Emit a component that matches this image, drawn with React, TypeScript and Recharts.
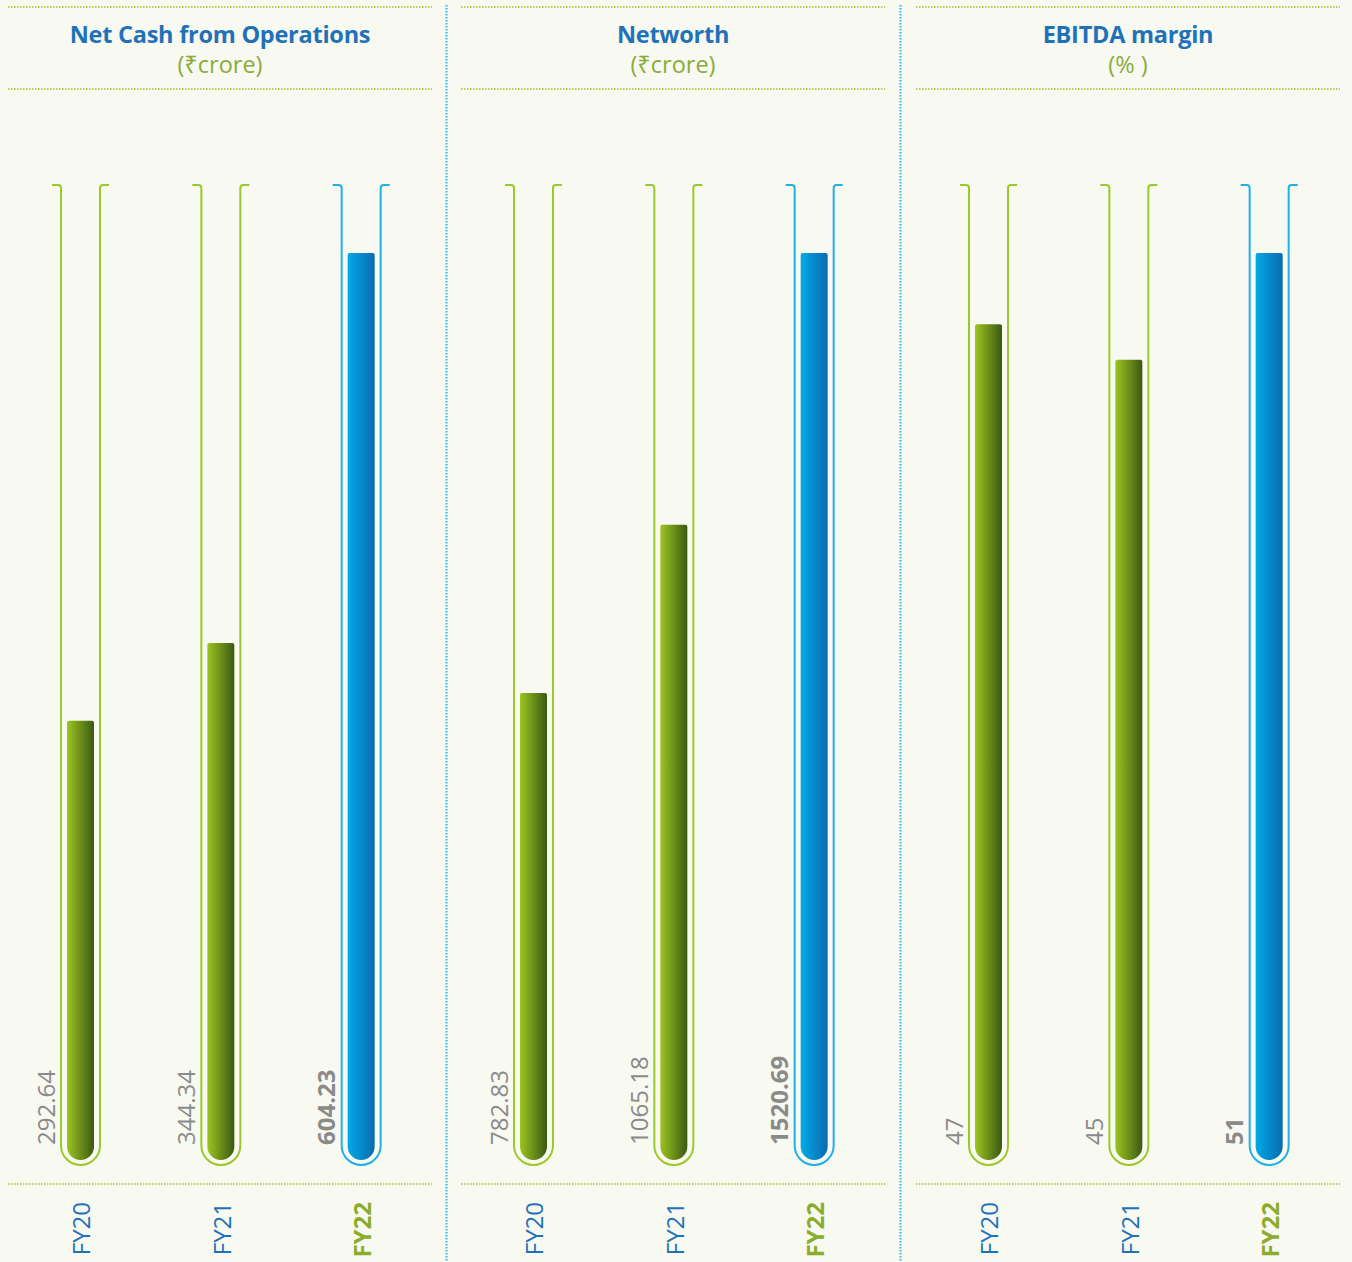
import { BarChart, Bar, XAxis, YAxis, LabelList } from 'recharts';

const years = ['FY20', 'FY21', 'FY22'];
const netCash = [292.64, 344.34, 604.23];
const networth = [782.83, 1065.18, 1520.69];
const ebitdaMargin = [47, 45, 51];

const titles = ['Net Cash from Operations', 'Networth', 'EBITDA margin'];
const units = ['(₹crore)', '(₹crore)', '(% )'];
const series = [netCash, networth, ebitdaMargin];

const panelLeft = [8, 461, 916];
const PANEL_W = 424;
const PAGE_H = 1262;
const BAR_TOP = 253; // pixel where the max value lands
const BAR_ZERO = 1160; // pixel of value 0
const TUBE_TOP = 185;
const TUBE_BOTTOM = 1165;
const TICK_TOP = 1202;

const FONT = "'Open Sans', 'Noto Sans', sans-serif";
const BG = '#f8f9f1';
const BLUE_TEXT = '#1f72b8';
const GREEN_TEXT = '#8bab3c';
const GRAY = '#8a8a8a';
const GREEN_LINE = '#9dc82b';
const BLUE_LINE = '#1fb0e8';

const isLatest = (i: number) => i === years.length - 1;

const makeShape = (pid: number) => (props: any) => {
  const { x, y, width, height, index } = props;
  const cx = x + width / 2;
  const L = cx - 19.5;
  const R = cx + 19.5;
  const r = 19.5;
  const tube =
    `M ${L - 9} ${TUBE_TOP} L ${L - 3} ${TUBE_TOP} Q ${L} ${TUBE_TOP} ${L} ${TUBE_TOP + 3} ` +
    `L ${L} ${TUBE_BOTTOM - r} A ${r} ${r} 0 0 0 ${R} ${TUBE_BOTTOM - r} ` +
    `L ${R} ${TUBE_TOP + 3} Q ${R} ${TUBE_TOP} ${R + 3} ${TUBE_TOP} L ${R + 9} ${TUBE_TOP}`;
  const rb = width / 2;
  const rt = 2;
  const yb = y + height;
  const bar =
    `M ${x} ${y + rt} Q ${x} ${y} ${x + rt} ${y} L ${x + width - rt} ${y} ` +
    `Q ${x + width} ${y} ${x + width} ${y + rt} L ${x + width} ${yb - rb} ` +
    `A ${rb} ${rb} 0 0 1 ${x} ${yb - rb} Z`;
  const latest = isLatest(index);
  return (
    <g>
      <path d={tube} fill="none" stroke={latest ? BLUE_LINE : GREEN_LINE} strokeWidth={2} />
      <path d={bar} fill={`url(#${latest ? 'blue' : 'green'}-${pid})`} />
    </g>
  );
};

const ValueLabel = (props: any) => {
  const { x, y, width, height, value, index } = props;
  const tx = x + width / 2 - 26;
  const ty = y + height - 15;
  return (
    <text
      x={tx}
      y={ty}
      transform={`rotate(-90 ${tx} ${ty})`}
      textAnchor="start"
      fill={GRAY}
      fontFamily={FONT}
      fontSize={24}
      fontWeight={isLatest(index) ? 700 : 400}
    >
      {value}
    </text>
  );
};

const YearTick = (props: any) => {
  const { x, payload, index } = props;
  const tx = x + 10;
  const latest = isLatest(index);
  return (
    <text
      x={tx}
      y={TICK_TOP}
      transform={`rotate(-90 ${tx} ${TICK_TOP})`}
      textAnchor="end"
      fill={latest ? '#8cac2e' : BLUE_TEXT}
      fontFamily={FONT}
      fontSize={24}
      fontWeight={latest ? 700 : 400}
    >
      {payload.value}
    </text>
  );
};

const Panel = ({ pid }: { pid: number }) => {
  const data = years.map((year, i) => ({ year, value: series[pid][i] }));
  return (
    <div style={{ position: 'absolute', left: panelLeft[pid], top: 0 }}>
      <BarChart
        width={PANEL_W}
        height={PAGE_H}
        data={data}
        margin={{ top: BAR_TOP, bottom: 0, left: 2, right: 1 }}
      >
        <defs>
          <linearGradient id={`green-${pid}`} x1="0" y1="0" x2="1" y2="0">
            <stop offset="0%" stopColor="#9dc421" />
            <stop offset="100%" stopColor="#3a5913" />
          </linearGradient>
          <linearGradient id={`blue-${pid}`} x1="0" y1="0" x2="1" y2="0">
            <stop offset="0%" stopColor="#00aae8" />
            <stop offset="100%" stopColor="#0b6aae" />
          </linearGradient>
        </defs>
        <XAxis
          dataKey="year"
          axisLine={false}
          tickLine={false}
          height={PAGE_H - BAR_ZERO}
          interval={0}
          tick={<YearTick />}
        />
        <YAxis hide domain={[0, 'dataMax']} />
        <Bar dataKey="value" barSize={27} shape={makeShape(pid)} isAnimationActive={false}>
          <LabelList dataKey="value" content={<ValueLabel />} />
        </Bar>
      </BarChart>
      <div
        style={{
          position: 'absolute',
          top: 19,
          left: 0,
          width: PANEL_W,
          textAlign: 'center',
          fontFamily: FONT,
          fontWeight: 700,
          fontSize: 23.5,
          lineHeight: '30px',
          color: BLUE_TEXT,
          letterSpacing: -0.25,
        }}
      >
        {titles[pid]}
      </div>
      <div
        style={{
          position: 'absolute',
          top: 49,
          left: 0,
          width: PANEL_W,
          textAlign: 'center',
          fontFamily: FONT,
          fontSize: 23.5,
          lineHeight: '30px',
          color: GREEN_TEXT,
        }}
      >
        {units[pid]}
      </div>
    </div>
  );
};

export default function App() {
  return (
    <div
      style={{
        position: 'absolute',
        top: 0,
        left: 0,
        width: 1352,
        height: PAGE_H,
        background: BG,
        overflow: 'hidden',
      }}
    >
      <svg width={1352} height={PAGE_H} style={{ position: 'absolute', left: 0, top: 0 }}>
        {panelLeft.map((px) =>
          [7, 89, 1184].map((ly) => (
            <line
              key={`${px}-${ly}`}
              x1={px}
              x2={px + PANEL_W}
              y1={ly}
              y2={ly}
              stroke="#b3cf56"
              strokeWidth={2}
              strokeDasharray="1.5 1.5"
            />
          ))
        )}
        {[446.5, 900.5].map((dx) => (
          <line
            key={dx}
            x1={dx}
            x2={dx}
            y1={5}
            y2={PAGE_H}
            stroke="#35b4e8"
            strokeWidth={2}
            strokeDasharray="1.5 1.5"
          />
        ))}
      </svg>
      {[0, 1, 2].map((pid) => (
        <Panel key={pid} pid={pid} />
      ))}
    </div>
  );
}
